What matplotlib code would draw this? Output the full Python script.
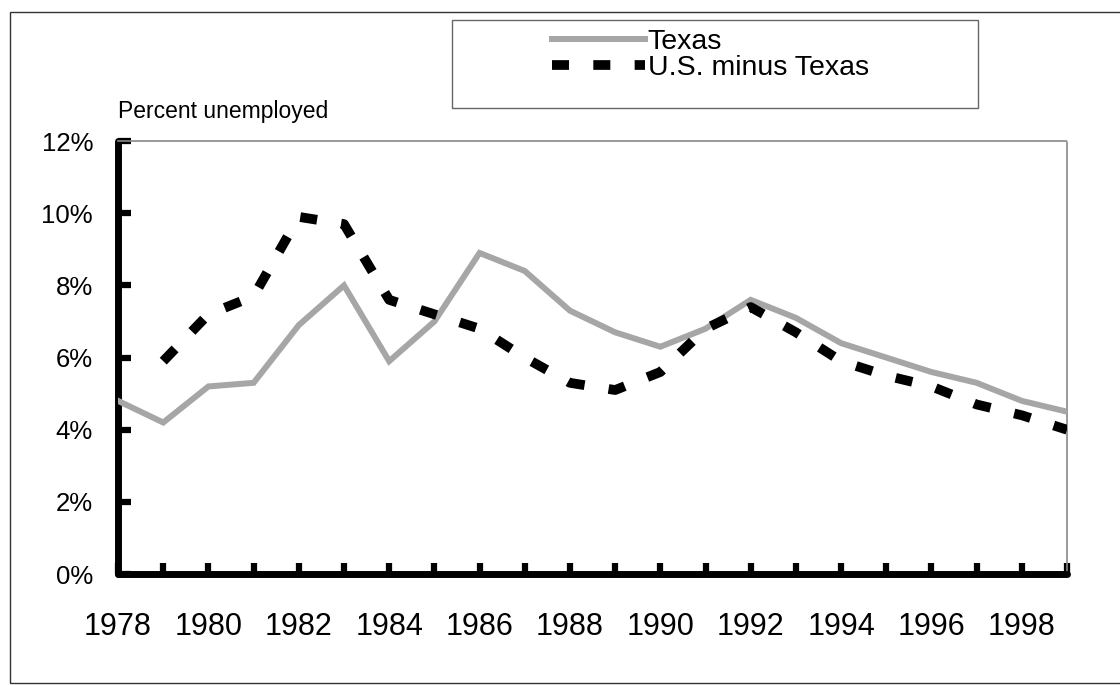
import matplotlib
matplotlib.use('Agg')
import matplotlib.pyplot as plt
from matplotlib.patches import Rectangle

plt.rcParams['font.family'] = ['Liberation Sans', 'DejaVu Sans']

years_tx = list(range(1978, 2000))
texas = [4.8, 4.2, 5.2, 5.3, 6.9, 8.0, 5.9, 7.0, 8.9, 8.4, 7.3,
         6.7, 6.3, 6.8, 7.6, 7.1, 6.4, 6.0, 5.6, 5.3, 4.8, 4.5]
years_us = list(range(1979, 2000))
us_minus_tx = [5.9, 7.2, 7.7, 9.9, 9.7, 7.6, 7.2, 6.8, 6.0, 5.3, 5.1,
               5.6, 6.8, 7.4, 6.7, 5.9, 5.5, 5.2, 4.7, 4.4, 4.0]
y_ticks = [0, 2, 4, 6, 8, 10, 12]
x_ticks = list(range(1978, 2000))

fig = plt.figure(figsize=(11.2, 6.85), dpi=100)
ax = fig.add_axes([0.1054, 0.162, 0.8473, 0.632])

ax.plot(years_tx, texas, color='#a6a6a6', lw=4.3, solid_joinstyle='miter',
        label='Texas', zorder=3)
ax.plot(years_us, us_minus_tx, color='black', lw=7, dashes=(1.75, 2.5),
        dash_capstyle='butt', label='U.S. minus Texas', zorder=4)

ax.set_xlim(1978, 1999)
ax.set_ylim(0, 12)
ax.set_yticks(y_ticks)
ax.set_yticklabels([f'{v}%' for v in y_ticks])
ax.set_xticks(x_ticks)
ax.set_xticklabels([str(y) if y % 2 == 0 else '' for y in x_ticks])

ax.tick_params(axis='y', direction='in', length=9, width=4.5, pad=18,
               labelsize=18.5, color='black')
ax.tick_params(axis='x', direction='in', length=8, width=4.5, pad=27,
               labelsize=22, color='black')

for side in ['left', 'bottom']:
    ax.spines[side].set_linewidth(5)
    ax.spines[side].set_color('black')
    ax.spines[side].set_capstyle('round')
for side in ['top', 'right']:
    ax.spines[side].set_linewidth(1.2)
    ax.spines[side].set_color('#888888')
    ax.spines[side].set_linestyle((0, (1, 1)))

fig.text(0.1054, 1 - 118 / 685, 'Percent unemployed', fontsize=16.5,
         ha='left', va='baseline')

# outer frame and legend box
fig.add_artist(Rectangle((10 / 1120, 2 / 685), 1.1, 1 - 14 / 685,
                         transform=fig.transFigure, fill=False,
                         ec='#333333', lw=1))
fig.add_artist(Rectangle((452 / 1120, 1 - 108 / 685), 526 / 1120, 88 / 685,
                         transform=fig.transFigure, fill=False,
                         ec='#666666', lw=1))

fig.legend(loc='upper left', bbox_to_anchor=(526 / 1120, 1 - 3 / 685),
           frameon=False, fontsize=20.5, handlelength=3.27, handletextpad=0.1,
           labelspacing=0.0, borderpad=0.4)

fig.savefig('out.png', dpi=100)
